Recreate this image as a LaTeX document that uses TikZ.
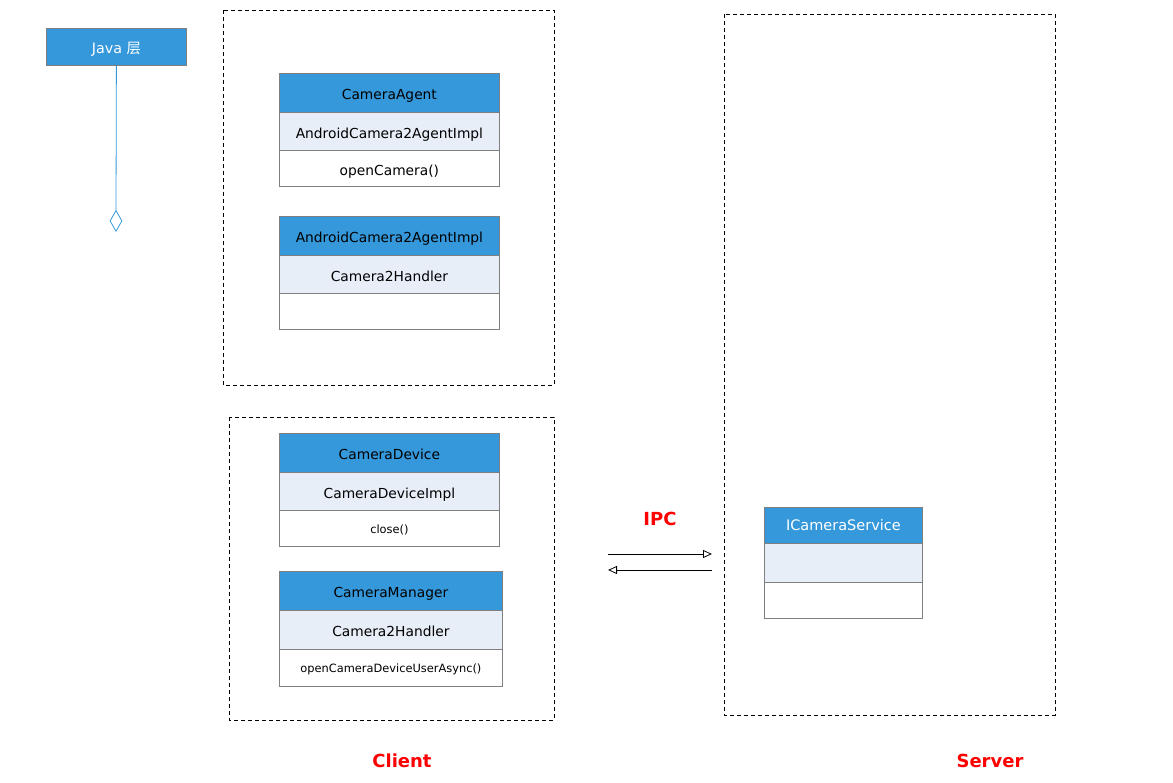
\documentclass[tikz,border=0pt]{standalone}
\usepackage{fontspec}
\setmainfont{DejaVu Sans}
\newfontfamily\cjk{Noto Sans CJK SC}
\usetikzlibrary{shapes.geometric,arrows.meta}
\definecolor{hdrblue}{HTML}{3598DB}
\definecolor{midfill}{HTML}{E8EEF8}
\definecolor{edgegrey}{HTML}{7F7F7F}
\definecolor{ipcred}{HTML}{FF0000}
\tikzset{
  comp/.style={draw=edgegrey, line width=0.8pt, rectangle, anchor=north west, inner sep=0pt, text height=16pt, text depth=2pt, font=\fontsize{13.8}{15}\selectfont},
  hdr/.style={comp, fill=hdrblue, text=black},
  hdrw/.style={comp, fill=hdrblue, text=white},
  mid/.style={comp, fill=midfill},
  bot/.style={comp, fill=white},
  small/.style={font=\fontsize{11.4}{13}\selectfont, text height=12pt, text depth=2pt},
  frame/.style={draw=black, line width=0.8pt, dash pattern=on 4pt off 3pt},
  redlbl/.style={text=ipcred, font=\fontsize{18}{20}\bfseries\selectfont},
  ipcarrow/.style={draw=black, line width=0.8pt, -{Triangle[open, length=9pt, width=8pt]}},
}
\begin{document}
\begin{tikzpicture}[x=1pt,y=-1pt]
\useasboundingbox (0,0) rectangle (1173,783);

% dashed frames
\draw[frame] (223,10) rectangle (554,385);
\draw[frame] (229,417) rectangle (554,720);
\draw[frame] (724,14) rectangle (1055,715);

% Java layer
\node[hdrw, minimum width=140pt, minimum height=37pt, font=\fontsize{14.3}{16}\selectfont] (java) at (46,28) {Java {\cjk 层}};
\node[diamond, draw=hdrblue, line width=0.8pt, minimum width=12pt, minimum height=21pt, inner sep=0pt, anchor=north] (dia) at (116,210) {};
\draw[hdrblue, line width=0.8pt] (java.south) -- (dia.north);

% CameraAgent
\node[hdr, minimum width=220pt, minimum height=39pt] (ca1) at (279,73) {CameraAgent};
\node[mid, minimum width=220pt, minimum height=38pt] (ca2) at (279,112) {AndroidCamera2AgentImpl};
\node[bot, minimum width=220pt, minimum height=36pt] (ca3) at (279,150) {openCamera()};

% AndroidCamera2AgentImpl
\node[hdr, minimum width=220pt, minimum height=39pt] (ai1) at (279,216) {AndroidCamera2AgentImpl};
\node[mid, minimum width=220pt, minimum height=38pt] (ai2) at (279,255) {Camera2Handler};
\node[bot, minimum width=220pt, minimum height=36pt] (ai3) at (279,293) {};

% CameraDevice
\node[hdr, minimum width=220pt, minimum height=39pt] (cd1) at (279,433) {CameraDevice};
\node[mid, minimum width=220pt, minimum height=38pt] (cd2) at (279,472) {CameraDeviceImpl};
\node[bot, small, minimum width=220pt, minimum height=36pt] (cd3) at (279,510) {close()};

% CameraManager
\node[hdr, minimum width=223pt, minimum height=39pt] (cm1) at (279,571) {CameraManager};
\node[mid, minimum width=223pt, minimum height=39pt] (cm2) at (279,610) {Camera2Handler};
\node[bot, small, minimum width=223pt, minimum height=37pt] (cm3) at (279,649) {openCameraDeviceUserAsync()};

% ICameraService
\node[hdrw, minimum width=158pt, minimum height=36pt, text height=11pt, text depth=0pt, font=\fontsize{14.5}{16}\selectfont] (ics1) at (764,507) {ICameraService};
\node[mid, minimum width=158pt, minimum height=39pt] (ics2) at (764,543) {};
\node[bot, minimum width=158pt, minimum height=36pt] (ics3) at (764,582) {};

% IPC arrows
\node[redlbl] (ipc) at (660,519) {IPC};
\coordinate (a1s) at (608,554);
\coordinate (a1e) at (712,554);
\coordinate (a2s) at (712,570);
\coordinate (a2e) at (608,570);
\draw[ipcarrow] (a1s) -- (a1e);
\draw[ipcarrow] (a2s) -- (a2e);

% labels
\node[redlbl] (client) at (402,761) {Client};
\node[redlbl] (server) at (990,761) {Server};
\end{tikzpicture}
\end{document}
